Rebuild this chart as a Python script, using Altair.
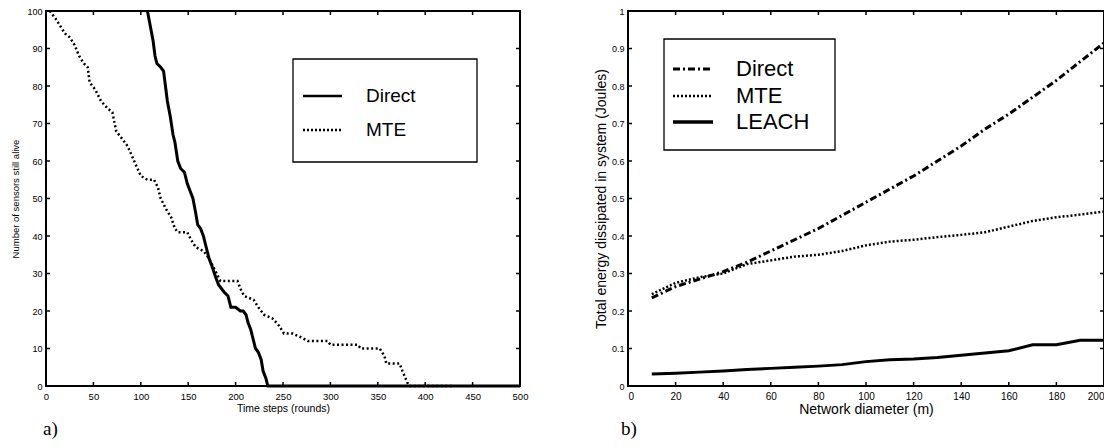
import altair as alt
import pandas as pd

# ---------------- Panel a) : sensors alive vs time ----------------
a_series = ["Direct", "MTE"]
a_direct_x = [107, 110, 113, 115, 117, 121, 124, 126, 128, 131, 134, 136, 139, 142, 146, 149, 152, 155, 158,
              160, 163, 166, 169, 172, 175, 179, 182, 185, 188, 192, 195, 200, 205, 208, 211, 213, 216, 218, 221,
              224, 227, 229, 232, 234, 500]
a_direct_y = [100, 96, 92, 88, 86, 85, 84, 80, 76, 72, 67, 65, 60, 58, 57, 54, 52, 50, 46,
              43, 42, 40, 37, 34, 32, 29, 27, 26, 25, 24, 21, 21, 20, 20, 19, 17, 15, 13, 10,
              9, 7, 4, 2, 0, 0]
a_mte_x = [4, 10, 15, 20, 25, 30, 35, 40, 44, 46, 52, 58, 65, 70, 74, 80, 86, 93, 100,
           107, 114, 118, 121, 127, 132, 136, 139, 149, 153, 158, 166, 172, 178, 184, 192, 202, 205, 209, 219,
           224, 230, 239, 246, 251, 260, 269, 276, 297, 300, 329, 332, 352, 357, 359, 373, 376, 381, 383, 428]
a_mte_y = [100, 98, 96, 94, 93, 91, 88, 86, 85, 81, 79, 76, 74, 73, 68, 66, 64, 60, 56,
           55, 55, 53, 50, 47, 45, 42, 41, 41, 39, 37, 36, 34, 31, 28, 28, 28, 26, 24, 23,
           21, 19, 18, 16, 14, 14, 13, 12, 12, 11, 11, 10, 10, 8, 6, 6, 4, 1, 0, 0]
a_x_ticks = [0, 50, 100, 150, 200, 250, 300, 350, 400, 450, 500]
a_y_ticks = [0, 10, 20, 30, 40, 50, 60, 70, 80, 90, 100]
a_x_title = "Time steps (rounds)"
a_y_title = "Number of sensors still alive"

# ---------------- Panel b) : energy vs network diameter ----------------
b_series = ["Direct", "MTE", "LEACH"]
b_x = [10, 20, 30, 40, 50, 60, 70, 80, 90, 100, 110, 120, 130, 140, 150, 160, 170, 180, 190, 200]
b_direct = [0.235, 0.265, 0.285, 0.305, 0.33, 0.36, 0.39, 0.42, 0.455, 0.49,
            0.525, 0.56, 0.60, 0.64, 0.685, 0.725, 0.77, 0.815, 0.865, 0.915]
b_mte = [0.245, 0.275, 0.29, 0.30, 0.325, 0.335, 0.345, 0.35, 0.36, 0.375,
         0.385, 0.39, 0.397, 0.403, 0.41, 0.425, 0.44, 0.45, 0.457, 0.465]
b_leach = [0.032, 0.034, 0.037, 0.040, 0.044, 0.047, 0.050, 0.053, 0.057, 0.065,
           0.070, 0.072, 0.076, 0.082, 0.088, 0.094, 0.110, 0.110, 0.122, 0.122]
b_x_ticks = [0, 20, 40, 60, 80, 100, 120, 140, 160, 180, 200]
b_y_ticks = [0, 0.1, 0.2, 0.3, 0.4, 0.5, 0.6, 0.7, 0.8, 0.9, 1]
b_x_title = "Network diameter (m)"
b_y_title = "Total energy dissipated in system (Joules)"

panel_tags = ["a)", "b)"]

FONT = "Liberation Sans"
W1, W2, H = 474, 476, 375
TICK = 4


def panel(lines, X, Y, xticks, yticks, W, legend, tag, tag_x):
    layers = []
    for df, width, dash in lines:
        mk = dict(color="black", strokeWidth=width, clip=False)
        if dash:
            mk["strokeDash"] = dash
        layers.append(alt.Chart(df).mark_line(**mk).encode(x=X, y=Y))
    xt = pd.DataFrame({"x": xticks})
    yt = pd.DataFrame({"y": yticks})
    rule = dict(color="black", strokeWidth=1.5)
    layers.append(alt.Chart(xt).mark_rule(**rule).encode(x=X, y=alt.value(H), y2=alt.value(H - TICK)))
    layers.append(alt.Chart(xt).mark_rule(**rule).encode(x=X, y=alt.value(0), y2=alt.value(TICK)))
    layers.append(alt.Chart(yt).mark_rule(**rule).encode(y=Y, x=alt.value(0), x2=alt.value(TICK)))
    layers.append(alt.Chart(yt).mark_rule(**rule).encode(y=Y, x=alt.value(W), x2=alt.value(W - TICK)))
    # legend box
    (bx0, bx1, by0, by1), sx0, sx1, tx, rows, fs, entries = legend
    layers.append(alt.Chart(pd.DataFrame({"label": [""]})).mark_rect(
        fill="white", stroke="black", strokeWidth=1.3).encode(
        x=alt.value(bx0), x2=alt.value(bx1), y=alt.value(by0), y2=alt.value(by1)))
    for (name, width, dash), ry in zip(entries, rows):
        d = pd.DataFrame({"label": [name]})
        mk = dict(color="black", strokeWidth=width)
        if dash:
            mk["strokeDash"] = dash
        layers.append(alt.Chart(d).mark_rule(**mk).encode(
            x=alt.value(sx0), x2=alt.value(sx1), y=alt.value(ry)))
        layers.append(alt.Chart(d).mark_text(
            align="left", baseline="middle", font=FONT, fontSize=fs, color="black").encode(
            x=alt.value(tx), y=alt.value(ry), text="label:N"))
    layers.append(alt.Chart(pd.DataFrame({"label": [tag]})).mark_text(
        align="left", baseline="middle", font="Liberation Serif", fontSize=19, color="black").encode(
        x=alt.value(tag_x), y=alt.value(H + 43), text="label:N"))
    return alt.layer(*layers).properties(width=W, height=H)


# ----- panel a
aX = alt.X("x:Q", scale=alt.Scale(domain=[0, 500], nice=False, zero=False),
           axis=alt.Axis(values=a_x_ticks, ticks=False, domain=False, grid=False,
                         labelFontSize=9.5, labelPadding=5, labelFlush=False,
                         title=a_x_title, titleFontSize=10.5, titleFontWeight="normal",
                         titleX=W1 / 2, titleY=22,
                         titleAlign="center", titleBaseline="middle"))
aY = alt.Y("y:Q", scale=alt.Scale(domain=[0, 100], nice=False, zero=False),
           axis=alt.Axis(values=a_y_ticks, ticks=False, domain=False, grid=False,
                         labelFontSize=9, labelPadding=4,
                         title=a_y_title, titleFontSize=9.5, titleFontWeight="normal",
                         titleX=-31, titleY=H / 2,
                         titleAngle=270, titleAlign="center", titleBaseline="middle",
                         minExtent=37, maxExtent=37))
a_lines = [
    (pd.DataFrame({"x": a_direct_x, "y": a_direct_y}), 3, None),
    (pd.DataFrame({"x": a_mte_x, "y": a_mte_y}), 2.5, [2, 2.5]),
]
a_legend = ((247, 431, 48, 151), 257, 296, 320, [85, 119], 19,
            [(a_series[0], 2.5, None), (a_series[1], 2.5, [2, 2])])
left = panel(a_lines, aX, aY, a_x_ticks, a_y_ticks, W1, a_legend, panel_tags[0], -3)

# ----- panel b
bX = alt.X("x:Q", scale=alt.Scale(domain=[0, 200], nice=False, zero=False),
           axis=alt.Axis(values=b_x_ticks, ticks=False, domain=False, grid=False,
                         labelFontSize=10, labelPadding=5, labelFlush=True,
                         title=b_x_title, titleFontSize=14, titleFontWeight="normal",
                         titleX=W2 / 2, titleY=23,
                         titleAlign="center", titleBaseline="middle"))
bY = alt.Y("y:Q", scale=alt.Scale(domain=[0, 1], nice=False, zero=False),
           axis=alt.Axis(values=b_y_ticks, format="~g", ticks=False, domain=False, grid=False,
                         labelFontSize=9, labelPadding=4,
                         title=b_y_title, titleFontSize=14, titleFontWeight="normal",
                         titleX=-27, titleY=H / 2,
                         titleAngle=270, titleAlign="center", titleBaseline="middle",
                         minExtent=40, maxExtent=40))
b_lines = [
    (pd.DataFrame({"x": b_x, "y": b_direct}), 3, [7, 3, 2, 3]),
    (pd.DataFrame({"x": b_x, "y": b_mte}), 2.5, [2, 2]),
    (pd.DataFrame({"x": b_x, "y": b_leach}), 3, None),
]
b_legend = ((36, 207, 28, 139), 45, 85, 108, [58, 85, 111], 22,
            [(b_series[0], 3, [7, 3, 2, 3]), (b_series[1], 2.5, [2, 2]), (b_series[2], 3.5, None)])
right = panel(b_lines, bX, bY, b_x_ticks, b_y_ticks, W2, b_legend, panel_tags[1], -7)

chart = alt.hconcat(left, right, spacing=58).properties(
    padding={"left": 0, "top": -4, "right": -7, "bottom": -1.5},
    background="white",
).configure_axis(
    labelFont=FONT, titleFont=FONT, labelColor="black", titleColor="black", titleFontWeight="normal"
).configure_view(
    stroke="black", strokeWidth=2
)

chart.save("out.html", embed_options={"renderer": "svg", "actions": False})
